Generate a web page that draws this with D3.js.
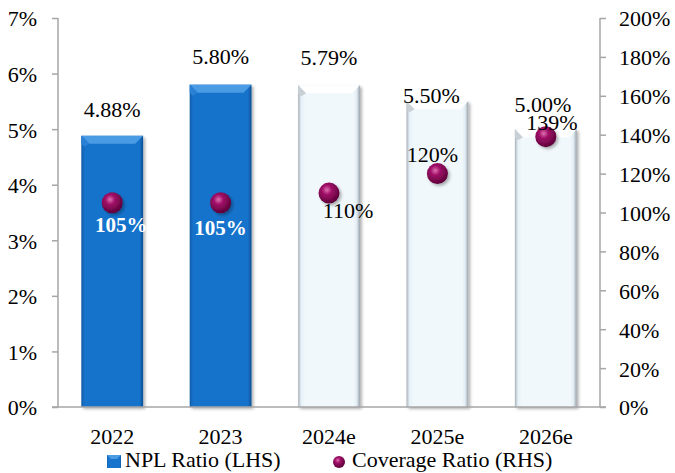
<!DOCTYPE html>
<html lang="en">
<head>
    <meta charset="UTF-8">
    <title>NPL Ratio and Coverage Ratio</title>
    <script src="https://d3js.org/d3.v7.min.js"></script>
    <style>
        body { margin: 0; background: #fff; }
        text { font-family: "Liberation Serif", "Times New Roman", serif; fill: #000; }
        .axis-line { stroke: #a6a6a6; stroke-width: 1.5px; }
    </style>
</head>
<body>
    <div id="chart"></div>

    <script>
        // Données
        const years = ["2022", "2023", "2024e", "2025e", "2026e"];
        const nplRatio = [4.88, 5.80, 5.79, 5.50, 5.00];          // %
        const coverageRatio = [105, 105, 110, 120, 139];          // %
        const estimated = [false, false, true, true, true];
        const leftTicks = [0, 1, 2, 3, 4, 5, 6, 7];
        const rightTicks = [0, 20, 40, 60, 80, 100, 120, 140, 160, 180, 200];
        const legendLabels = ["NPL Ratio (LHS)", "Coverage Ratio (RHS)"];

        // Décalages manuels des étiquettes (comme dans l'original)
        const nplLabelShift = [[0, -19], [0, -21], [0, -20], [-6, 2], [-3, -17]];
        const covLabelShift = [[9, 29], [0, 32], [19, 25], [-5, -12], [6, -7]];

        const W = 675, H = 473;
        const plotLeft = 58, plotRight = 600, plotTop = 18, plotBottom = 407;

        const svg = d3.select("#chart")
            .append("svg")
            .attr("width", W)
            .attr("height", H);

        const defs = svg.append("defs");

        // dégradés barres
        function hGrad(id, stops) {
            const g = defs.append("linearGradient").attr("id", id)
                .attr("x1", "0%").attr("x2", "100%").attr("y1", "0%").attr("y2", "0%");
            stops.forEach(s => g.append("stop").attr("offset", s[0]).attr("stop-color", s[1]));
        }
        hGrad("blueBar", [["0%", "#0f5ca8"], ["6%", "#1873cc"], ["94%", "#1873cc"], ["100%", "#0c4f93"]]);
        hGrad("paleBar", [["0%", "#a9b1b8"], ["5%", "#e6f1f8"], ["12%", "#f1f8fc"], ["90%", "#f1f8fc"], ["95%", "#e1ebf2"], ["100%", "#9aa3ab"]]);

        const dotGrad = defs.append("radialGradient").attr("id", "dotGrad")
            .attr("cx", "40%").attr("cy", "35%").attr("r", "65%");
        dotGrad.append("stop").attr("offset", "0%").attr("stop-color", "#e070b0");
        dotGrad.append("stop").attr("offset", "35%").attr("stop-color", "#a01068");
        dotGrad.append("stop").attr("offset", "100%").attr("stop-color", "#5c0038");

        const shadow = defs.append("filter").attr("id", "shadow")
            .attr("x", "-20%").attr("y", "-20%").attr("width", "150%").attr("height", "150%");
        shadow.append("feDropShadow").attr("dx", 2).attr("dy", 2)
            .attr("stdDeviation", 1.8).attr("flood-color", "#000").attr("flood-opacity", 0.3);

        // Échelles
        const x = d3.scaleBand().domain(years).range([plotLeft, plotRight])
            .paddingInner(0.43).paddingOuter(0.215);
        const yL = d3.scaleLinear().domain([0, 7]).range([plotBottom, plotTop]);
        const yR = d3.scaleLinear().domain([0, 200]).range([plotBottom, plotTop]);

        // Barres
        const bars = svg.append("g").selectAll("g")
            .data(years.map((d, i) => ({ year: d, v: nplRatio[i], est: estimated[i] })))
            .join("g")
            .attr("filter", "url(#shadow)");

        bars.append("rect")
            .attr("x", d => x(d.year))
            .attr("y", d => yL(d.v))
            .attr("width", x.bandwidth())
            .attr("height", d => plotBottom - yL(d.v))
            .attr("fill", d => d.est ? "url(#paleBar)" : "url(#blueBar)");

        // biseau du haut
        const bev = 8;
        bars.append("path")
            .attr("d", d => {
                const x0 = x(d.year), x1 = x0 + x.bandwidth(), y0 = yL(d.v);
                return `M${x0},${y0}L${x1},${y0}L${x1 - bev},${y0 + bev}L${x0 + bev},${y0 + bev}Z`;
            })
            .attr("fill", d => d.est ? "#ffffff" : "#4a9be4");
        bars.append("path")
            .attr("d", d => {
                const x0 = x(d.year), y0 = yL(d.v);
                return `M${x0},${y0}L${x0 + bev},${y0 + bev}L${x0 + 3},${y0 + bev + 3}L${x0},${y0 + bev}Z`;
            })
            .attr("fill", d => d.est ? "#c8d0d6" : "#2a80d4");

        // Axes
        svg.append("line").attr("class", "axis-line")
            .attr("x1", plotLeft).attr("x2", plotLeft).attr("y1", plotTop).attr("y2", plotBottom);
        svg.append("line").attr("class", "axis-line")
            .attr("x1", plotRight).attr("x2", plotRight).attr("y1", plotTop).attr("y2", plotBottom);
        svg.append("line").attr("class", "axis-line")
            .attr("x1", plotLeft - 6).attr("x2", plotRight + 6).attr("y1", plotBottom).attr("y2", plotBottom);

        const lAxis = svg.append("g").attr("transform", `translate(${plotLeft},0)`)
            .call(d3.axisLeft(yL).tickValues(leftTicks).tickFormat(d => d + "%")
                .tickSize(6).tickPadding(15));
        const rAxis = svg.append("g").attr("transform", `translate(${plotRight},0)`)
            .call(d3.axisRight(yR).tickValues(rightTicks).tickFormat(d => d + "%")
                .tickSize(6).tickPadding(13));
        [lAxis, rAxis].forEach(a => {
            a.select(".domain").remove();
            a.selectAll("line").attr("stroke", "#a6a6a6").attr("stroke-width", 1.5);
            a.selectAll("text").attr("font-size", 22).attr("font-family", null).attr("dy", "0.36em");
        });

        // Étiquettes des années
        svg.append("g").selectAll("text")
            .data(years)
            .join("text")
            .attr("x", d => x(d) + x.bandwidth() / 2)
            .attr("y", 444)
            .attr("text-anchor", "middle")
            .attr("font-size", 22)
            .text(d => d);

        // Étiquettes NPL
        svg.append("g").selectAll("text")
            .data(nplRatio)
            .join("text")
            .attr("x", (d, i) => x(years[i]) + x.bandwidth() / 2 + nplLabelShift[i][0])
            .attr("y", (d, i) => yL(d) + nplLabelShift[i][1])
            .attr("text-anchor", "middle")
            .attr("font-size", 22)
            .text(d => d.toFixed(2) + "%");

        // Points de couverture
        svg.append("g").selectAll("circle")
            .data(coverageRatio)
            .join("circle")
            .attr("cx", (d, i) => x(years[i]) + x.bandwidth() / 2)
            .attr("cy", d => yR(d))
            .attr("r", 10.5)
            .attr("fill", "url(#dotGrad)")
            .attr("filter", "url(#shadow)");

        svg.append("g").selectAll("text")
            .data(coverageRatio)
            .join("text")
            .attr("x", (d, i) => x(years[i]) + x.bandwidth() / 2 + covLabelShift[i][0])
            .attr("y", (d, i) => yR(d) + covLabelShift[i][1])
            .attr("text-anchor", "middle")
            .attr("font-size", (d, i) => estimated[i] ? 22 : 21)
            .attr("font-weight", (d, i) => estimated[i] ? "normal" : "bold")
            .style("fill", (d, i) => estimated[i] ? "#000" : "#fff")
            .text(d => d + "%");

        // Légende
        const leg = svg.append("g");
        leg.append("rect").attr("x", 107).attr("y", 455).attr("width", 14).attr("height", 13)
            .attr("fill", "url(#blueBar)");
        leg.append("path").attr("d", "M107,455L121,455L117,459L111,459Z").attr("fill", "#4a9be4");
        leg.append("text").attr("x", 125).attr("y", 467).attr("font-size", 22).text(legendLabels[0]);
        leg.append("circle").attr("cx", 339).attr("cy", 462).attr("r", 6).attr("fill", "url(#dotGrad)");
        leg.append("text").attr("x", 352).attr("y", 467).attr("font-size", 22).text(legendLabels[1]);
    </script>
</body>
</html>
